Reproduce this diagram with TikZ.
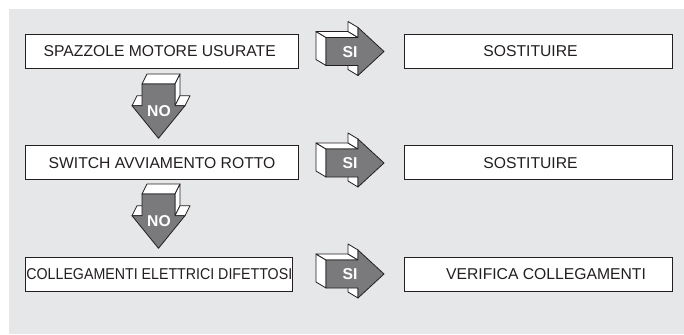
\documentclass[tikz,border=0pt]{standalone}
\usepackage{fontspec}
\usepackage{graphicx}
\setmainfont{Liberation Sans}
\definecolor{bg}{RGB}{230,231,232}
\definecolor{agray}{RGB}{122,122,124}
\definecolor{edge}{RGB}{35,31,32}
\newcommand\siarr[2]{%
\begin{scope}[shift={(0,#1)}]
 \draw[face] (326,-14) -- (326,14) -- (316,8) -- (316,-20) -- cycle;
 \draw[face] (326,-14) -- (358,-14) -- (348,-20) -- (316,-20) -- cycle;
 \draw[face] (358,-24) -- (358,-14) -- (348,-20) -- (348,-30) -- cycle;
 \draw[face] (358,14) -- (358,24) -- (348,18) -- (348,8) -- cycle;
 \draw[front] (326,-14) -- (358,-14) -- (358,-24) -- (384,0) -- (358,24) -- (358,14) -- (326,14) -- cycle;
 \node[arrtxt] (#2) at (350,0.5) {SI};
\end{scope}}
\newcommand\noarr[2]{%
\begin{scope}[shift={(158.5,#1)}]
 \draw[face] (-16.5,0) -- (16.5,0) -- (21.5,-10) -- (-11.5,-10) -- cycle;
 \draw[face] (16.5,0) -- (16.5,21.7) -- (21.5,11.7) -- (21.5,-10) -- cycle;
 \draw[face] (-26.5,21.7) -- (-16.5,21.7) -- (-11.5,11.7) -- (-21.5,11.7) -- cycle;
 \draw[face] (16.5,21.7) -- (26.5,21.7) -- (31.5,11.7) -- (21.5,11.7) -- cycle;
 \draw[front] (-16.5,0) -- (16.5,0) -- (16.5,21.7) -- (26.5,21.7) -- (0,54.3) -- (-26.5,21.7) -- (-16.5,21.7) -- cycle;
 \node[arrtxt] (#2) at (0.5,26.7) {NO};
\end{scope}}
\begin{document}
\begin{tikzpicture}[x=1pt,y=-1pt,
  boxstyle/.style={draw=edge,line width=0.9pt,fill=white,inner sep=0pt,minimum height=34pt},
  lbl/.style={font=\fontsize{15.7}{18}\selectfont,inner sep=0pt,anchor=base,text=edge},
  face/.style={draw=edge,line width=0.8pt,fill=white,line join=round},
  front/.style={draw=edge,line width=0.8pt,fill=agray,line join=round},
  arrtxt/.style={font=\bfseries\fontsize{15.7}{18}\selectfont,text=white,inner sep=0pt}
]
\useasboundingbox (0,0) rectangle (684,334);
\fill[bg] (9,9) rectangle (684,334);
% left boxes
\node[boxstyle,minimum width=273pt] (b1) at (161.5,51.3) {};
\node[boxstyle,minimum width=273pt] (b2) at (161.5,162.6) {};
\node[boxstyle,minimum width=267.7pt] (b3) at (158.85,274.1) {};
% right boxes
\node[boxstyle,minimum width=268pt] (r1) at (538,51.3) {};
\node[boxstyle,minimum width=268pt] (r2) at (538,162.6) {};
\node[boxstyle,minimum width=268pt] (r3) at (538,274.1) {};
% texts
\node[lbl] (t1) at (159.7,56.7) {SPAZZOLE MOTORE USURATE};
\node[lbl] (t2) at (162,168) {SWITCH AVVIAMENTO ROTTO};
\node[lbl] (t3) at (159.3,279.5) {\scalebox{0.905}[1]{COLLEGAMENTI ELETTRICI DIFETTOSI}};
\node[lbl] (t4) at (530.5,56.7) {SOSTITUIRE};
\node[lbl] (t5) at (530.5,168) {SOSTITUIRE};
\node[lbl] (t6) at (546,279.5) {VERIFICA COLLEGAMENTI};
% arrows
\siarr{51.5}{si1}
\siarr{163}{si2}
\siarr{274}{si3}
\noarr{84}{no1}
\noarr{194}{no2}
\end{tikzpicture}
\end{document}
